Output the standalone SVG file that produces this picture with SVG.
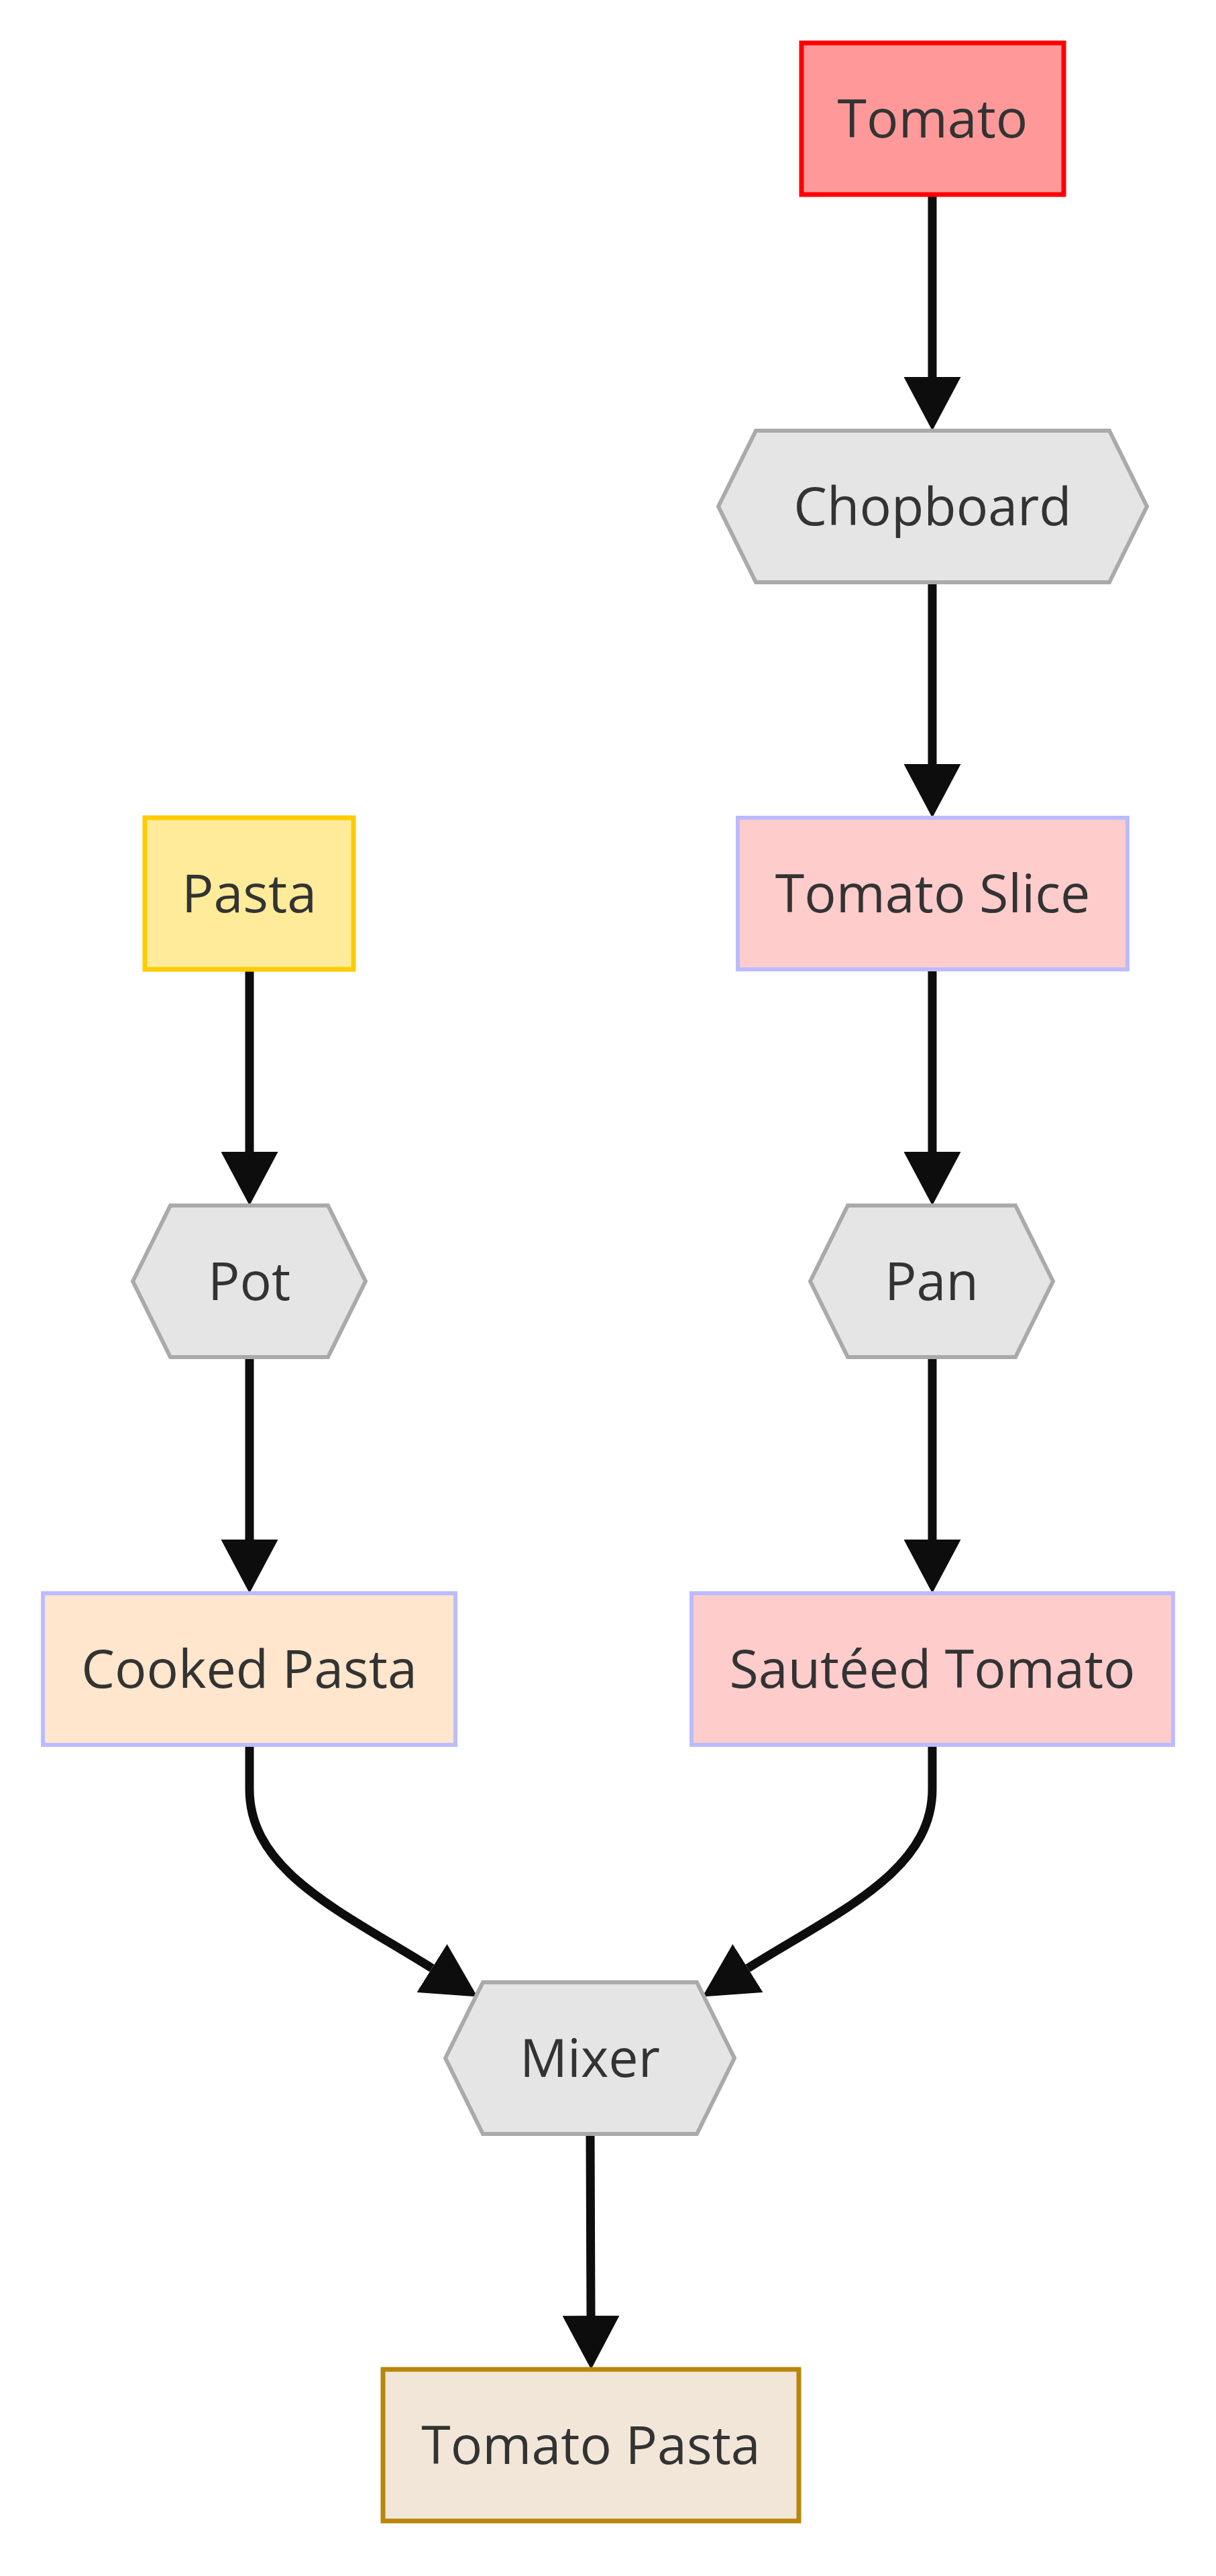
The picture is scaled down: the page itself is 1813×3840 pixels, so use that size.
<svg xmlns="http://www.w3.org/2000/svg" width="1813" height="3840" viewBox="0 0 1813 3840">
<defs>
<style>
.lbl{font-family:"Open Sans","Noto Sans","Liberation Sans",sans-serif;font-size:79px;fill:#333333;text-anchor:middle}
.hex{fill:#e5e5e5;stroke:#aaaaaa;stroke-width:6}
.edge{fill:none;stroke:#0d0d0d;stroke-width:13}
</style>
<marker id="arr" markerUnits="userSpaceOnUse" viewBox="0 0 80 85" markerWidth="80" markerHeight="85" refX="0" refY="42.5" orient="auto">
<path d="M0,0 L80,42.5 L0,85 z" fill="#0d0d0d"/>
</marker>
</defs>
<rect width="1813" height="3840" fill="#ffffff"/>
<g id="edges">
<path class="edge" marker-end="url(#arr)" d="M1390,290 L1390,562"/>
<path class="edge" marker-end="url(#arr)" d="M1390,868 L1390,1139"/>
<path class="edge" marker-end="url(#arr)" d="M1390,1445 L1390,1717"/>
<path class="edge" marker-end="url(#arr)" d="M1390,2023 L1390,2295"/>
<path class="edge" marker-end="url(#arr)" d="M372,1445 L372,1717"/>
<path class="edge" marker-end="url(#arr)" d="M372,2023 L372,2295"/>
<path class="edge" marker-end="url(#arr)" d="M372,2601 L372,2667 C372,2790 510,2850 644,2934"/>
<path class="edge" marker-end="url(#arr)" d="M1390,2601 L1390,2667 C1390,2790 1249,2850 1115,2934"/>
<path class="edge" marker-end="url(#arr)" d="M880,3181 L881,3452"/>
</g>
<g id="tomato">
<rect x="1195" y="64" width="391" height="226" fill="#ff9999" stroke="#ff0000" stroke-width="7"/>
<text class="lbl" x="1390.5" y="205">Tomato</text>
</g>
<g id="chopboard">
<polygon class="hex" points="1071,755 1127,642 1654,642 1710,755 1654,868 1127,868"/>
<text class="lbl" x="1390.5" y="783">Chopboard</text>
</g>
<g id="tomato_slice">
<rect x="1100" y="1219" width="581" height="226" fill="#ffcccc" stroke="#bbbbff" stroke-width="6"/>
<text class="lbl" x="1390.5" y="1360">Tomato Slice</text>
</g>
<g id="pan">
<polygon class="hex" points="1208,1910 1264,1797 1514,1797 1570,1910 1514,2023 1264,2023"/>
<text class="lbl" x="1389" y="1938">Pan</text>
</g>
<g id="sauteed_tomato">
<rect x="1031" y="2375" width="718" height="226" fill="#ffcccc" stroke="#bbbbff" stroke-width="6"/>
<text class="lbl" x="1390" y="2516">Sautéed Tomato</text>
</g>
<g id="pasta">
<rect x="216" y="1219" width="311" height="226" fill="#ffeb99" stroke="#ffcc00" stroke-width="7"/>
<text class="lbl" x="371.5" y="1360">Pasta</text>
</g>
<g id="pot">
<polygon class="hex" points="198,1910 254,1797 489,1797 545,1910 489,2023 254,2023"/>
<text class="lbl" x="371.5" y="1938">Pot</text>
</g>
<g id="cooked_pasta">
<rect x="64" y="2375" width="615" height="226" fill="#ffe6cc" stroke="#bbbbff" stroke-width="6"/>
<text class="lbl" x="371.5" y="2516">Cooked Pasta</text>
</g>
<g id="mixer">
<polygon class="hex" points="664,3068 720,2955 1039,2955 1095,3068 1039,3181 720,3181"/>
<text class="lbl" x="879.5" y="3096">Mixer</text>
</g>
<g id="tomato_pasta">
<rect x="571" y="3532" width="620" height="226" fill="#f2e6d9" stroke="#b8860b" stroke-width="7"/>
<text class="lbl" x="881" y="3673">Tomato Pasta</text>
</g>
</svg>
